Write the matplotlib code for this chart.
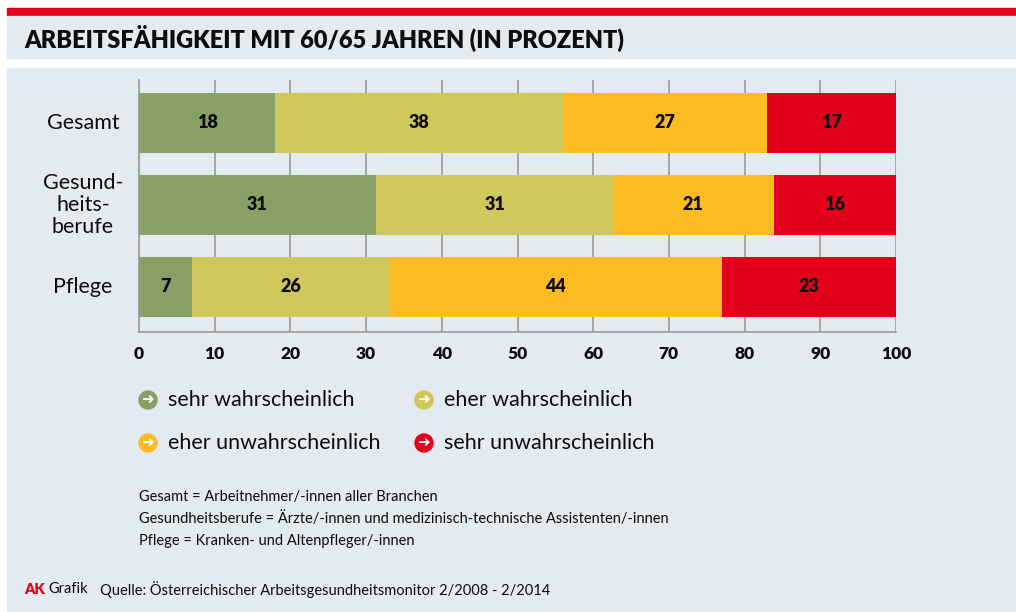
import numpy as np
import matplotlib.pyplot as plt
from matplotlib.patches import Rectangle, Circle

categories = ['Gesamt', 'Gesund-\nheits-\nberufe', 'Pflege']
series = ['sehr wahrscheinlich', 'eher wahrscheinlich',
          'eher unwahrscheinlich', 'sehr unwahrscheinlich']
values = [
    [18, 31, 7],
    [38, 31, 26],
    [27, 21, 44],
    [17, 16, 23],
]
colors = ['#86a066', '#cfc65c', '#fbbb22', '#e2001a']
ticks = [0, 10, 20, 30, 40, 50, 60, 70, 80, 90, 100]
notes = [
    'Gesamt = Arbeitnehmer/-innen aller Branchen',
    'Gesundheitsberufe = Ärzte/-innen und medizinisch-technische Assistenten/-innen',
    'Pflege = Kranken- und Altenpfleger/-innen',
]

plt.rcParams['font.family'] = ['Lato', 'DejaVu Sans']
W, H = 1016, 612
bg = '#e3ebf1'
txt = '#0d0d0d'

fig = plt.figure(figsize=(W / 100, H / 100), dpi=100)
fig.patch.set_facecolor('white')


def px(x, y):
    return x / W, 1 - y / H


def rect(x0, y0, x1, y1, color):
    fig.patches.append(Rectangle((x0 / W, 1 - y1 / H), (x1 - x0) / W, (y1 - y0) / H,
                                 transform=fig.transFigure, color=color, zorder=-10))


rect(7, 8, W, 16, '#e2001a')
rect(7, 16, W, 58, bg)
rect(7, 68, W, H, bg)

fig.text(*px(24, 38), 'ARBEITSFÄHIGKEIT MIT 60/65 JAHREN (IN PROZENT)',
         fontsize=17, fontweight='heavy', color=txt, va='center', ha='left')

# main axes
ax = fig.add_axes([139 / W, 1 - 332 / H, (896 - 139) / W, (332 - 80) / H])
ax.set_facecolor('none')
y = np.arange(len(categories))
vals_arr = np.array(values, dtype=float)
# rounded shares: scale each row so the bar fills 100 %
widths = vals_arr / vals_arr.sum(axis=0) * 100
left = np.zeros(len(categories))
for vals, wid, col in zip(vals_arr, widths, colors):
    ax.barh(y, wid, left=left, height=60 / 82, color=col, zorder=3)
    for yi, l, w, v in zip(y, left, wid, vals):
        ax.text(l + w / 2, yi, str(int(v)), ha='center', va='center',
                fontsize=13, fontweight='heavy', color=txt, zorder=4)
    left += wid

ax.set_xlim(0, 100)
ax.set_ylim(2.549, -0.524)
ax.set_xticks(ticks)
ax.set_xticklabels([str(t) for t in ticks], fontsize=12.5, fontweight='heavy', color=txt)
ax.tick_params(axis='x', length=0, pad=10)
ax.set_yticks([])
ax.grid(axis='x', color='#9a9a9a', linewidth=1.2, zorder=1)
for s in ['top', 'right']:
    ax.spines[s].set_visible(False)
ax.spines['left'].set_color('#9a9a9a')
ax.spines['bottom'].set_color('#9a9a9a')
ax.spines['left'].set_linewidth(1.2)
ax.spines['bottom'].set_linewidth(1.2)

for yi, cat in zip(y, categories):
    ax.text(-7.4, yi, cat, ha='center', va='center', fontsize=15.5, color=txt,
            multialignment='center', linespacing=1.15)

# legend
leg_pos = [(148, 400), (424, 400), (148, 443), (424, 443)]
for (lx, ly), name, col in zip(leg_pos, series, colors):
    cx, cy = px(lx, ly)
    fig.patches.append(Circle((lx, H - ly), 9, transform=None, color=col, zorder=2))
    fig.text(cx, cy, '➜', color='white', fontsize=11, fontweight='bold',
             ha='center', va='center', family='DejaVu Sans')
    fig.text(*px(lx + 20, ly), name, fontsize=15.5, color=txt, ha='left', va='center')

# notes
for i, n in enumerate(notes):
    fig.text(*px(139, 497 + i * 22), n, fontsize=10.5, color=txt, ha='left', va='center')

fig.text(*px(24, 589), 'AK', fontsize=10.5, fontweight='heavy', color='#e2001a', va='center')
fig.text(*px(48, 589), 'Grafik', fontsize=10.5, color=txt, va='center')
fig.text(*px(100, 589), 'Quelle: Österreichischer Arbeitsgesundheitsmonitor 2/2008 - 2/2014',
         fontsize=10.5, color=txt, va='center')

fig.savefig('out.png', dpi=100, facecolor=fig.get_facecolor())
